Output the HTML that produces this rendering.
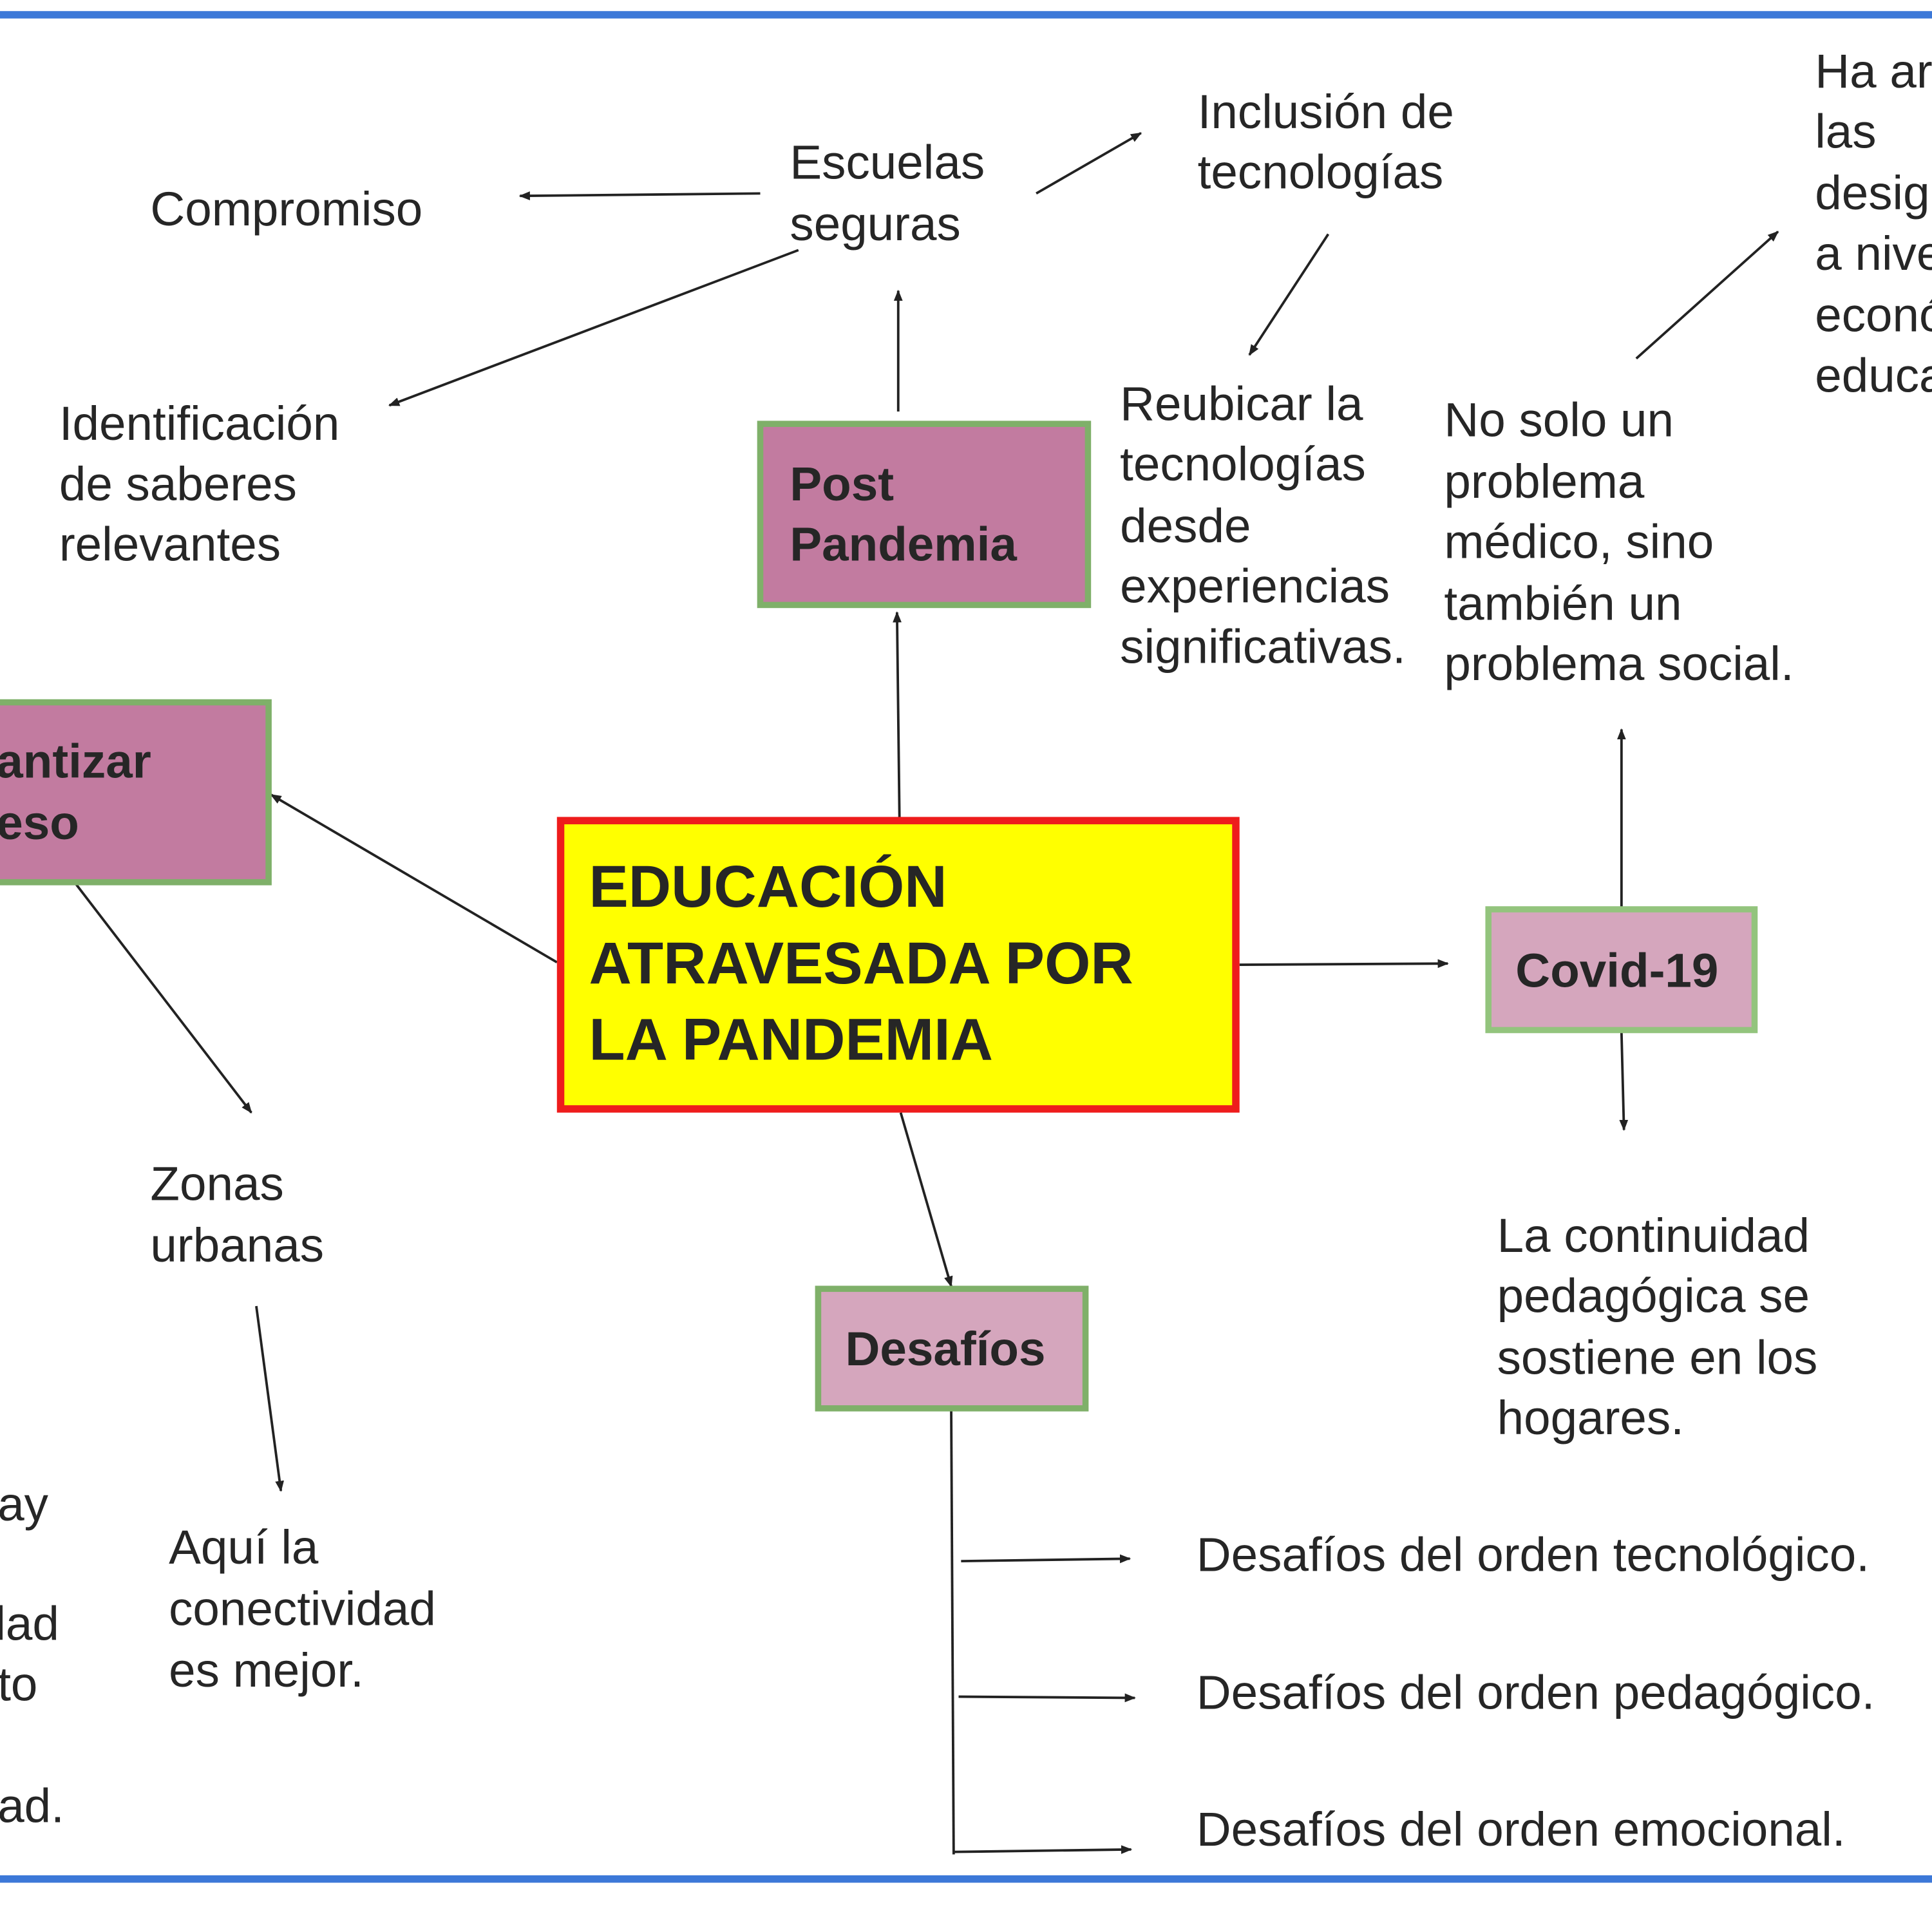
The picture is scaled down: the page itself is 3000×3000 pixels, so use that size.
<!DOCTYPE html>
<html><head><meta charset="utf-8"><style>
html,body{margin:0;padding:0;background:#fff;width:3000px;height:3000px;overflow:hidden}
svg{display:block}
text{font-family:"Liberation Sans",Arial,sans-serif;fill:#262626}
</style></head><body>
<svg width="3000" height="3000" viewBox="0 0 1568 1568" xmlns="http://www.w3.org/2000/svg">
<defs>
<marker id="a" viewBox="0 0 10 10" refX="9" refY="5" markerWidth="9" markerHeight="9" markerUnits="userSpaceOnUse" orient="auto">
<path d="M0,1 L10,5 L0,9 z" fill="#222"/></marker>
</defs>
<rect x="0" y="0" width="1568" height="1568" fill="#fff"/>
<rect x="0" y="9" width="1568" height="6" fill="#3c78d8"/>
<rect x="0" y="1522" width="1568" height="6" fill="#3c78d8"/>

<g stroke="#222" stroke-width="2" fill="none" marker-end="url(#a)">
<line x1="617" y1="157" x2="422" y2="159"/>
<line x1="648" y1="203" x2="316" y2="329"/>
<line x1="841" y1="157" x2="926" y2="108"/>
<line x1="1078" y1="190" x2="1014" y2="288"/>
<line x1="1328" y1="291" x2="1443" y2="188"/>
<line x1="729" y1="334" x2="729" y2="236"/>
<line x1="730" y1="663" x2="728" y2="497"/>
<line x1="452" y1="781" x2="220" y2="645"/>
<line x1="62" y1="718" x2="204" y2="903"/>
<line x1="208" y1="1060" x2="228" y2="1210"/>
<line x1="1006" y1="783" x2="1175" y2="782"/>
<line x1="1316" y1="736" x2="1316" y2="592"/>
<line x1="1316" y1="838" x2="1318" y2="917"/>
<line x1="731" y1="903" x2="772" y2="1044"/>
<line x1="780" y1="1267" x2="917" y2="1265"/>
<line x1="778" y1="1377" x2="921" y2="1378"/>
<line x1="774" y1="1503" x2="918" y2="1501"/>
</g>
<line x1="772" y1="1145" x2="774" y2="1505" stroke="#222" stroke-width="2"/>

<rect x="455" y="666" width="548" height="234" fill="#ffff00" stroke="#ee1c1c" stroke-width="6"/>
<rect x="617" y="344" width="266" height="147" fill="#c27ba0" stroke="#7fb069" stroke-width="5"/>
<rect x="-10" y="570" width="228" height="146" fill="#c27ba0" stroke="#7fb069" stroke-width="5"/>
<rect x="1208" y="738" width="216" height="98" fill="#d5a6bd" stroke="#93c47d" stroke-width="5"/>
<rect x="664" y="1046" width="217" height="97" fill="#d5a6bd" stroke="#7fb069" stroke-width="5"/>

<g font-weight="bold" font-size="48">
<text x="478" y="736">EDUCACIÓN</text>
<text x="478" y="798">ATRAVESADA POR</text>
<text x="478" y="860">LA PANDEMIA</text>
</g>
<g font-weight="bold" font-size="39">
<text x="641" y="406">Post</text>
<text x="641" y="455">Pandemia</text>
<text x="-3" y="631">antizar</text>
<text x="-3" y="681">eso</text>
<text x="1230" y="801">Covid-19</text>
<text x="686" y="1108">Desafíos</text>
</g>
<g font-size="39">
<text x="122" y="183">Compromiso</text>
<text x="641" y="145">Escuelas</text>
<text x="641" y="195">seguras</text>
<text x="972" y="104">Inclusión de</text>
<text x="972" y="153">tecnologías</text>
<text x="1473" y="71">Ha ar</text>
<text x="1473" y="120">las</text>
<text x="1473" y="170">desig</text>
<text x="1473" y="219">a nive</text>
<text x="1473" y="269">econó</text>
<text x="1473" y="318">educa</text>
<text x="48" y="357">Identificación</text>
<text x="48" y="406">de saberes</text>
<text x="48" y="455">relevantes</text>
<text x="909" y="341">Reubicar la</text>
<text x="909" y="390">tecnologías</text>
<text x="909" y="440">desde</text>
<text x="909" y="489">experiencias</text>
<text x="909" y="538">significativas.</text>
<text x="1172" y="354">No solo un</text>
<text x="1172" y="404">problema</text>
<text x="1172" y="453">médico, sino</text>
<text x="1172" y="503">también un</text>
<text x="1172" y="552">problema social.</text>
<text x="122" y="974">Zonas</text>
<text x="122" y="1024">urbanas</text>
<text x="137" y="1269">Aquí la</text>
<text x="137" y="1319">conectividad</text>
<text x="137" y="1369">es mejor.</text>
<text x="-2" y="1234">ay</text>
<text x="-4" y="1331">lad</text>
<text x="-2" y="1380">to</text>
<text x="-2" y="1479">ad.</text>
<text x="1215" y="1016">La continuidad</text>
<text x="1215" y="1065">pedagógica se</text>
<text x="1215" y="1115">sostiene en los</text>
<text x="1215" y="1164">hogares.</text>
<text x="971" y="1275">Desafíos del orden tecnológico.</text>
<text x="971" y="1387">Desafíos del orden pedagógico.</text>
<text x="971" y="1498">Desafíos del orden emocional.</text>
</g>
</svg>
</body></html>
